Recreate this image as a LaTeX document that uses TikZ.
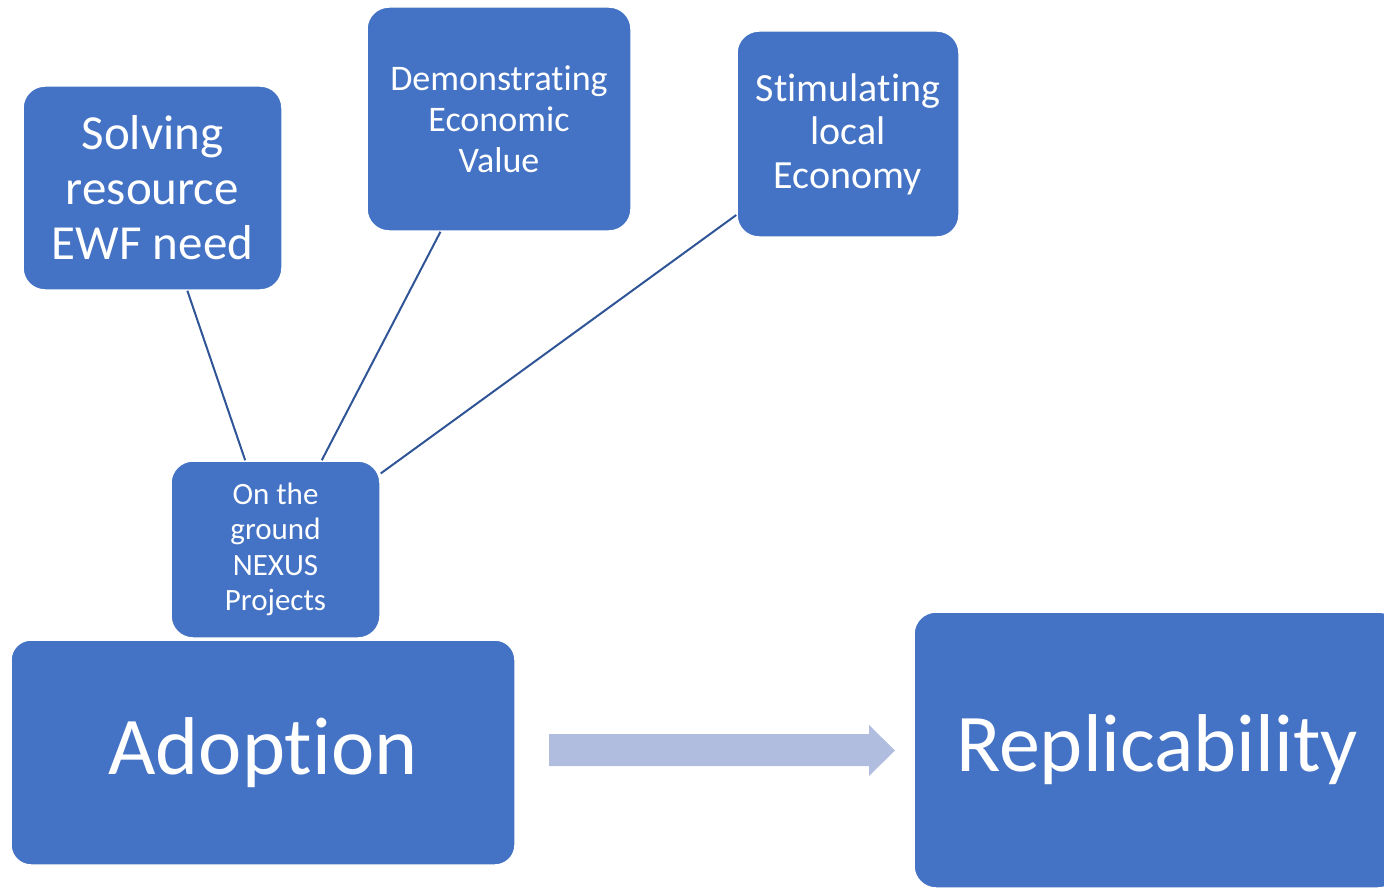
\documentclass[tikz,border=0pt]{standalone}
\usepackage{fontspec}
\setmainfont{Carlito}[RawFeature=-liga]
\definecolor{boxblue}{HTML}{4472C4}
\definecolor{linkblue}{HTML}{2F5597}
\definecolor{pushblue}{HTML}{B0BDDF}
\tikzset{
  card/.style={rectangle, rounded corners=22pt, fill=boxblue, draw=white,
    line width=1.5pt, text=white, align=center, inner sep=0pt},
  link/.style={draw=linkblue, line width=2pt},
}
\begin{document}
\begin{tikzpicture}[x=1pt,y=-1pt]
  \useasboundingbox (0,0) rectangle (1384,888);
  \clip (0,0) rectangle (1384,888);
  % top row of drivers
  \node[card, minimum width=259pt, minimum height=204pt, font=\fontsize{49}{55}\selectfont]
    (solving) at (152.5,188) {Solving\\resource\\EWF need};
  \node[card, minimum width=264pt, minimum height=224pt, font=\fontsize{36}{41}\selectfont]
    (demo) at (499,119) {Demonstrating\\Economic\\Value};
  \node[card, minimum width=222pt, minimum height=206pt, font=\fontsize{40}{43.5}\selectfont]
    (stim) at (848,134) {Stimulating\\local\\Economy};
  % projects and the two stages
  \node[card, minimum width=209pt, minimum height=177pt, font=\fontsize{31}{35.5}\selectfont]
    (nexus) at (275.5,549.5) {On the\\ground\\NEXUS\\Projects};
  \node[card, rounded corners=20pt, minimum width=504pt, minimum height=225pt, font=\fontsize{82}{96}\selectfont]
    (adoption) at (263,752.5) {Adoption};
  \node[card, minimum width=486pt, minimum height=276pt, font=\fontsize{82}{96}\selectfont]
    (replic) at (1157,750) {Replicability};
  % links
  \draw[link] (solving) -- (nexus);
  \draw[link] (demo) -- (nexus);
  \draw[link] (stim) -- (nexus);
  % block arrow
  \fill[pushblue] (549,734) -- (869,734) -- (869,725) -- (895,750.5)
    -- (869,776) -- (869,766) -- (549,766) -- cycle;
\end{tikzpicture}
\end{document}
